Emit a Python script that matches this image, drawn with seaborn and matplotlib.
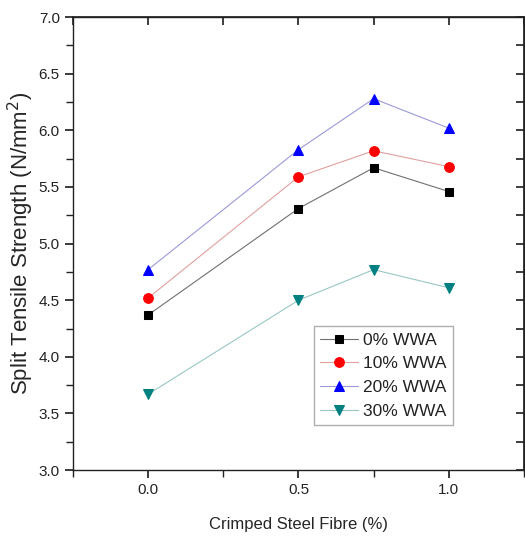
import matplotlib

matplotlib.use("Agg")
import matplotlib.pyplot as plt
import numpy as np
import pandas as pd
import seaborn as sns
from matplotlib.ticker import FormatStrFormatter, MultipleLocator

fibre = [0.0, 0.5, 0.75, 1.0]
series = ["0% WWA", "10% WWA", "20% WWA", "30% WWA"]
wwa0 = [4.37, 5.31, 5.67, 5.46]
wwa10 = [4.52, 5.59, 5.82, 5.68]
wwa20 = [4.77, 5.83, 6.28, 6.02]
wwa30 = [3.67, 4.50, 4.77, 4.61]

marker_colors = ["#000000", "#ff0000", "#0000ff", "#008080"]
line_colors = ["#707070", "#e0a0a0", "#9a9ad8", "#98c8c4"]
markers = ["s", "o", "^", "v"]
marker_sizes = [6, 7, 7.5, 7.5]

df = pd.DataFrame({
    "fibre": fibre * 4,
    "strength": wwa0 + wwa10 + wwa20 + wwa30,
    "mix": [s for s in series for _ in fibre],
})

sns.set_theme(style="ticks")
plt.rcParams["font.family"] = ["Liberation Sans", "DejaVu Sans"]
plt.rcParams["text.color"] = "#222222"

fig = plt.figure(figsize=(5.25, 5.36), dpi=100)
ax = fig.add_axes([0.139, 0.123, 0.859, 0.845])

sns.lineplot(data=df, x="fibre", y="strength", hue="mix", style="mix",
             palette=dict(zip(series, marker_colors)),
             markers=dict(zip(series, markers)), dashes=False,
             markersize=7, linewidth=0.8, ax=ax)


def restyle(line, lc, mc, ms):
    line.set_color(lc)
    line.set_markerfacecolor(mc)
    line.set_markeredgecolor(mc)
    line.set_markersize(ms)


for line, lc, mc, ms in zip(ax.lines[:4], line_colors, marker_colors, marker_sizes):
    restyle(line, lc, mc, ms)

ax.set_xlim(-0.25, 1.25)
ax.set_ylim(3.0, 7.0)
ax.xaxis.set_major_locator(MultipleLocator(0.5))
ax.xaxis.set_minor_locator(MultipleLocator(0.25))
ax.yaxis.set_major_locator(MultipleLocator(0.5))
ax.yaxis.set_minor_locator(MultipleLocator(0.25))
ax.xaxis.set_major_formatter(FormatStrFormatter("%.1f"))
ax.yaxis.set_major_formatter(FormatStrFormatter("%.1f"))
ax.tick_params(which="both", labelsize=11, colors="#222222")
ax.tick_params(which="major", length=6)
ax.tick_params(which="minor", length=5)

# inward ticks on top and right spines
ax2 = ax.secondary_xaxis("top")
ax2.xaxis.set_major_locator(MultipleLocator(0.25))
ax2.tick_params(direction="in", length=6, labeltop=False)
ax3 = ax.secondary_yaxis("right")
ax3.yaxis.set_major_locator(MultipleLocator(0.25))
ax3.tick_params(direction="in", length=6, labelright=False)

for sp in ax.spines.values():
    sp.set_linewidth(1.0)
    sp.set_color("#222222")

ax.set_xlabel("Crimped Steel Fibre (%)", fontsize=12, labelpad=14)
ax.set_ylabel("Split Tensile Strength (N/mm$^2$)", fontsize=16, labelpad=2)

handles, labels = ax.get_legend_handles_labels()
for h, lc, mc, ms in zip(handles, line_colors, marker_colors, marker_sizes):
    restyle(h, lc, mc, ms)
ax.legend(handles, labels, loc="lower left", bbox_to_anchor=(0.534, 0.099),
          borderaxespad=0, fontsize=12.5, frameon=True, fancybox=False,
          edgecolor="#999999", handlelength=2.2, handletextpad=0.3,
          borderpad=0.35, labelspacing=0.5)

fig.savefig("out.png", dpi=100)
